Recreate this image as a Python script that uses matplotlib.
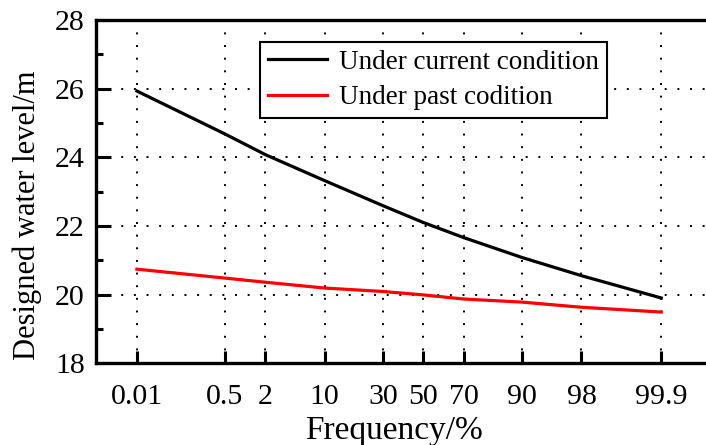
import numpy as np
import matplotlib
matplotlib.use("Agg")
import matplotlib.pyplot as plt
from matplotlib.ticker import FixedLocator, NullLocator, FixedFormatter
from statistics import NormalDist

freq = [0.01, 0.5, 2, 10, 30, 50, 70, 90, 98, 99.9]
tick_labels = ["0.01", "0.5", "2", "10", "30", "50", "70", "90", "98", "99.9"]
current = [25.93, 24.68, 24.08, 23.32, 22.59, 22.10, 21.66, 21.08, 20.55, 19.90]
past = [20.74, 20.48, 20.36, 20.19, 20.09, 19.99, 19.87, 19.78, 19.63, 19.49]

nd = NormalDist()
_ppf = np.vectorize(nd.inv_cdf, otypes=[float])
_cdf = np.vectorize(nd.cdf, otypes=[float])

def fwd(p):
    q = np.clip(np.asarray(p, float) / 100.0, 1e-12, 1 - 1e-12)
    return _ppf(q)

def inv(z):
    return 100.0 * _cdf(np.asarray(z, float))

plt.rcParams['font.family'] = ['Liberation Serif', 'DejaVu Serif']

fig = plt.figure(figsize=(7.06, 4.45), dpi=100)
ax = fig.add_axes([96/706, 1 - 363.2/445, 1 - 96/706, (363.2 - 20)/445])

ax.set_xscale('function', functions=(fwd, inv))
ax.plot(freq, current, color='black', lw=2.3, label='Under current condition')
ax.plot(freq, past, color='#ff0000', lw=2.3, label='Under past codition')

ax.set_xlim(inv(-4.25), inv(3.671))
ax.set_ylim(18, 28)
ax.xaxis.set_major_locator(FixedLocator(freq))
ax.xaxis.set_major_formatter(FixedFormatter(tick_labels))
ax.xaxis.set_minor_locator(NullLocator())
ax.set_yticks([18, 20, 22, 24, 26, 28])
ax.set_yticks([19, 21, 23, 25, 27], minor=True)

ax.grid(True, which='major', color='black', lw=1.4, linestyle=(0, (1, 5.5)))
ax.set_axisbelow(True)

for s in ['left', 'bottom', 'top']:
    ax.spines[s].set_linewidth(2.4)
ax.spines['right'].set_visible(False)

ax.tick_params(axis='x', which='major', direction='in', length=8.5, width=2.2,
               labelsize=21.5, pad=15, top=False)
ax.tick_params(axis='y', which='major', direction='in', length=10.5, width=2.2,
               labelsize=21.5, pad=8, right=False)
ax.tick_params(axis='y', which='minor', direction='in', length=5, width=2.2, right=False)

ax.set_xlabel('Frequency/%', fontsize=24)
ax.xaxis.set_label_coords(0.488, -0.153, transform=ax.transAxes)
ax.xaxis.label.set_va('top')
ax.set_ylabel('Designed water level/m', fontsize=22)
ax.yaxis.set_label_coords(-0.088, 0.43, transform=ax.transAxes)

leg = ax.legend(loc='upper left', bbox_to_anchor=(0.269, 0.936), borderaxespad=0,
                fontsize=19.5, frameon=True, fancybox=False, framealpha=1,
                edgecolor='black', handlelength=2.2, handletextpad=0.45,
                labelspacing=0.4, borderpad=0.28)
leg.get_frame().set_linewidth(1.5)

fig.savefig('out.png', dpi=100)
